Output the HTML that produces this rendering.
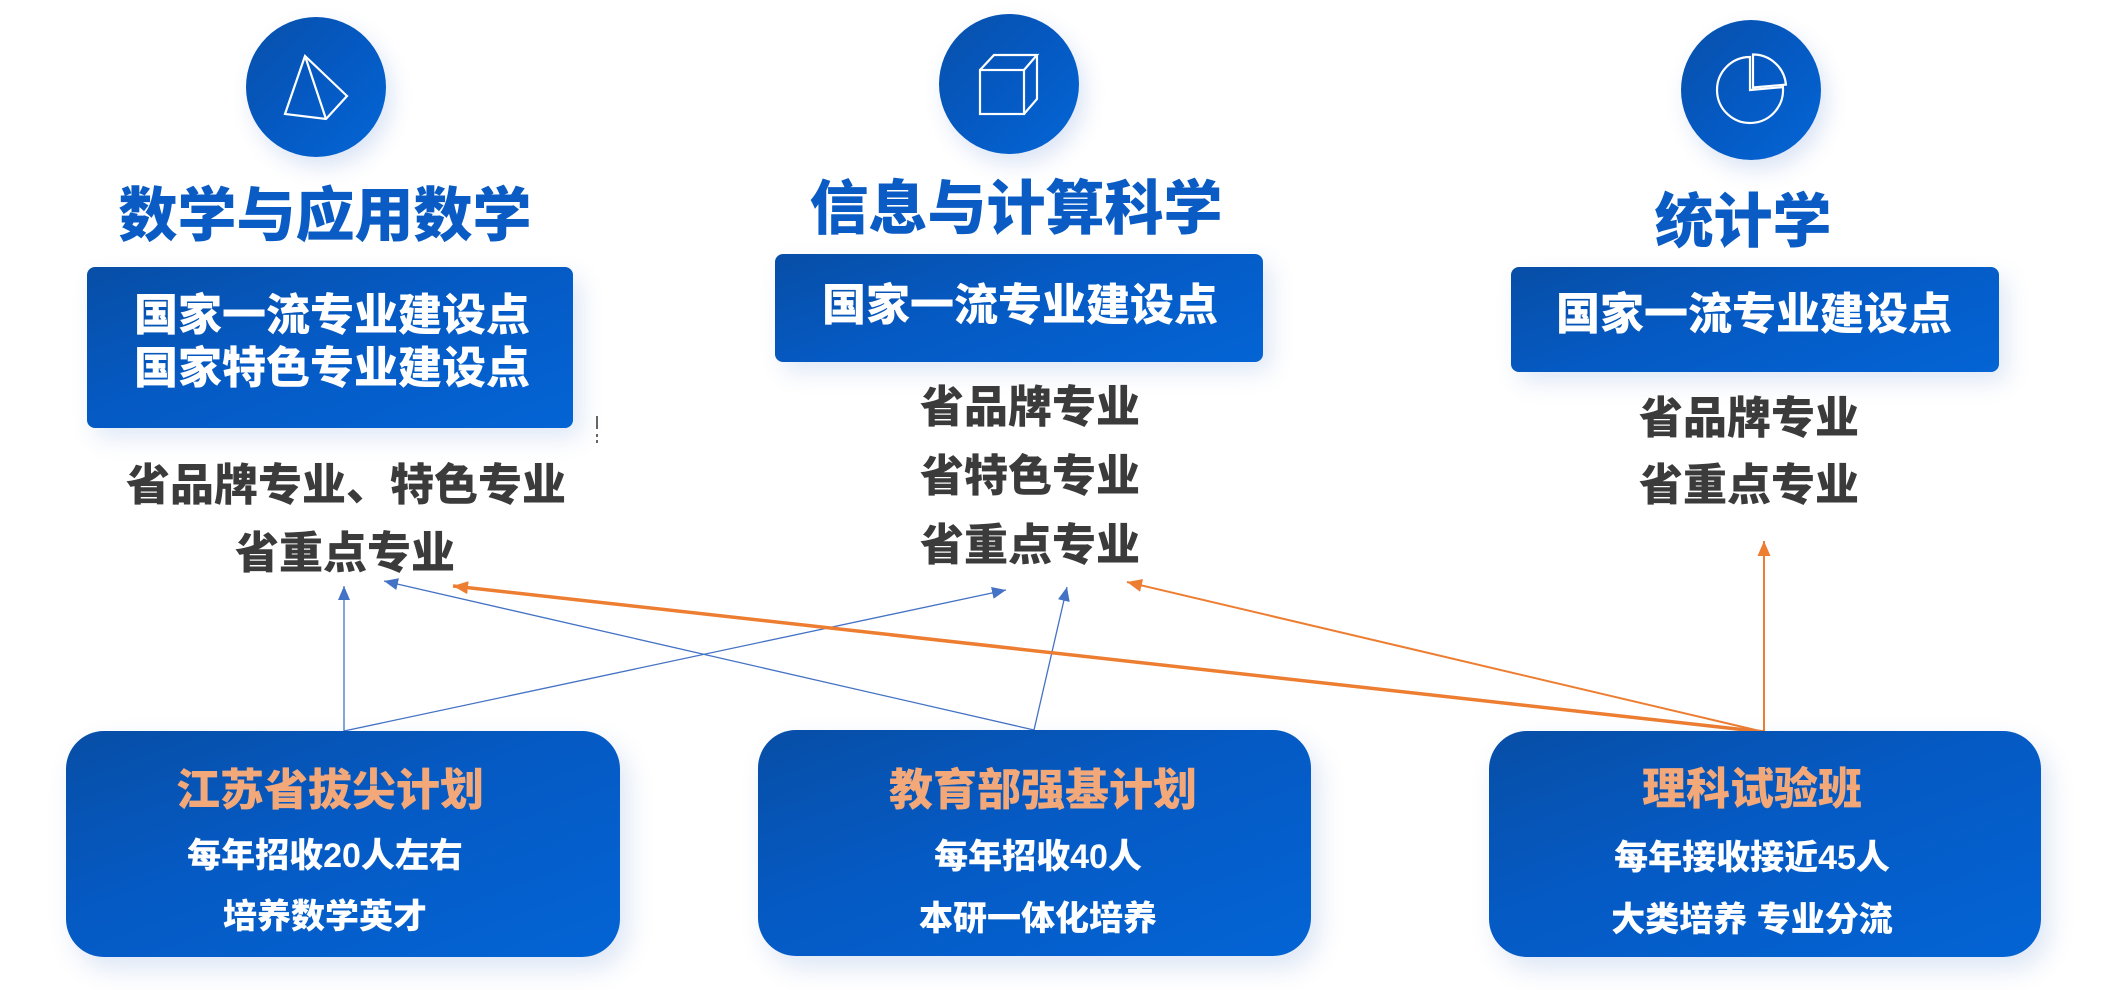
<!DOCTYPE html>
<html>
<head>
<meta charset="utf-8">
<style>
  html,body{margin:0;padding:0;background:#fff;}
  body{width:2109px;height:990px;position:relative;overflow:hidden;
    font-family:"Liberation Sans","Noto Sans CJK SC","WenQuanYi Zen Hei",sans-serif;}
  .t{position:absolute;white-space:nowrap;text-align:center;width:1000px;font-weight:900;}
  .title{font-size:59px;line-height:59px;color:#0a5cc4;}
  .w44{font-size:44px;line-height:44px;color:#fff;}
  .g44{font-size:44px;line-height:44px;color:#3b3b3b;}
  .o44{font-size:44px;line-height:44px;color:#f2a878;}
  .w34{font-size:34px;line-height:34px;color:#fff;}
  .circle{position:absolute;border-radius:50%;
    background:linear-gradient(135deg,#0850aa 0%,#0559c2 50%,#0466d6 100%);
    box-shadow:6px 10px 22px rgba(30,90,190,0.16);}
  .box{position:absolute;border-radius:8px;
    background:linear-gradient(160deg,#074ea6 0%,#055ac4 45%,#0464d4 100%);
    box-shadow:8px 10px 24px rgba(30,90,190,0.14);}
  .pbox{position:absolute;border-radius:38px;
    background:linear-gradient(160deg,#074ea6 0%,#055ac4 45%,#0464d4 100%);
    box-shadow:8px 12px 26px rgba(30,90,190,0.15);}
</style>
</head>
<body>

<!-- connectors (below boxes) -->
<svg width="2109" height="990" style="position:absolute;left:0;top:0;">
  <defs>
    <marker id="ab" viewBox="0 0 14 12" refX="14" refY="6" markerWidth="14" markerHeight="12" markerUnits="userSpaceOnUse" orient="auto">
      <path d="M0,0 L14,6 L0,12 z" fill="#4472c4"/>
    </marker>
    <marker id="ao" viewBox="0 0 15 13" refX="15" refY="6.5" markerWidth="15" markerHeight="13" markerUnits="userSpaceOnUse" orient="auto">
      <path d="M0,0 L15,6.5 L0,13 z" fill="#ed7d31"/>
    </marker>
  </defs>
  <g stroke="#4472c4" stroke-width="1.3" fill="none">
    <line x1="344" y1="731" x2="344" y2="586" marker-end="url(#ab)"/>
    <line x1="344" y1="731" x2="1006" y2="590" marker-end="url(#ab)"/>
    <line x1="1034" y1="730" x2="384" y2="581" marker-end="url(#ab)"/>
    <line x1="1034" y1="730" x2="1067" y2="587" marker-end="url(#ab)"/>
  </g>
  <g stroke="#ed7d31" fill="none">
    <line x1="1764" y1="732" x2="453" y2="586" stroke-width="3.5" marker-end="url(#ao)"/>
    <line x1="1764" y1="732" x2="1127" y2="582" stroke-width="2" marker-end="url(#ao)"/>
    <line x1="1764" y1="732" x2="1764" y2="541" stroke-width="2" marker-end="url(#ao)"/>
  </g>
  <g stroke="#333" stroke-width="1.5">
    <line x1="597" y1="416" x2="597" y2="429"/>
    <line x1="597" y1="434" x2="597" y2="437"/>
    <line x1="597" y1="440" x2="597" y2="443"/>
  </g>
</svg>

<!-- circles -->
<div class="circle" style="left:246px;top:17px;width:140px;height:140px;"></div>
<div class="circle" style="left:939px;top:14px;width:140px;height:140px;"></div>
<div class="circle" style="left:1681px;top:20px;width:140px;height:140px;"></div>

<!-- icons -->
<svg width="2109" height="200" style="position:absolute;left:0;top:0;">
  <g stroke="#fff" stroke-width="2.2" fill="none" stroke-linejoin="miter">
    <polygon points="305,56 285,114 326,119 347,96"/>
    <line x1="305" y1="56" x2="326" y2="119"/>
    <rect x="980" y="70" width="44" height="44"/>
    <polyline points="980,70 994,55 1037,55 1024,70"/>
    <polyline points="1037,55 1037,99 1024,114"/>
    <path d="M1750,90 L1750,57 A33,33 0 1,0 1782.9,87.1 Z"/>
    <path d="M1753,87.5 L1753,54.5 A33,33 0 0,1 1785.9,84.6 Z"/>
  </g>
</svg>

<!-- titles -->
<div class="t title" style="left:-175px;top:187px;">数学与应用数学</div>
<div class="t title" style="left:516px;top:180px;">信息与计算科学</div>
<div class="t title" style="left:1243px;top:193px;">统计学</div>

<!-- top boxes -->
<div class="box" style="left:87px;top:267px;width:486px;height:161px;"></div>
<div class="box" style="left:775px;top:254px;width:488px;height:108px;"></div>
<div class="box" style="left:1511px;top:267px;width:488px;height:105px;"></div>

<div class="t w44" style="left:-168px;top:294px;">国家一流专业建设点</div>
<div class="t w44" style="left:-168px;top:347px;">国家特色专业建设点</div>
<div class="t w44" style="left:520px;top:284px;">国家一流专业建设点</div>
<div class="t w44" style="left:1254px;top:293px;">国家一流专业建设点</div>

<!-- gray labels -->
<div class="t g44" style="left:-154px;top:464px;">省品牌专业、特色专业</div>
<div class="t g44" style="left:-155px;top:532px;">省重点专业</div>

<div class="t g44" style="left:530px;top:386px;">省品牌专业</div>
<div class="t g44" style="left:530px;top:455px;">省特色专业</div>
<div class="t g44" style="left:530px;top:524px;">省重点专业</div>

<div class="t g44" style="left:1249px;top:397px;">省品牌专业</div>
<div class="t g44" style="left:1249px;top:464px;">省重点专业</div>

<!-- bottom boxes -->
<div class="pbox" style="left:66px;top:731px;width:554px;height:226px;"></div>
<div class="pbox" style="left:758px;top:730px;width:553px;height:226px;"></div>
<div class="pbox" style="left:1489px;top:731px;width:552px;height:226px;"></div>

<div class="t o44" style="left:-170px;top:769px;">江苏省拔尖计划</div>
<div class="t w34" style="left:-175px;top:839px;">每年招收20人左右</div>
<div class="t w34" style="left:-175px;top:900px;">培养数学英才</div>

<div class="t o44" style="left:543px;top:769px;">教育部强基计划</div>
<div class="t w34" style="left:538px;top:840px;">每年招收40人</div>
<div class="t w34" style="left:538px;top:902px;">本研一体化培养</div>

<div class="t o44" style="left:1252px;top:768px;">理科试验班</div>
<div class="t w34" style="left:1252px;top:841px;">每年接收接近45人</div>
<div class="t w34" style="left:1252px;top:903px;">大类培养 专业分流</div>

</body>
</html>
